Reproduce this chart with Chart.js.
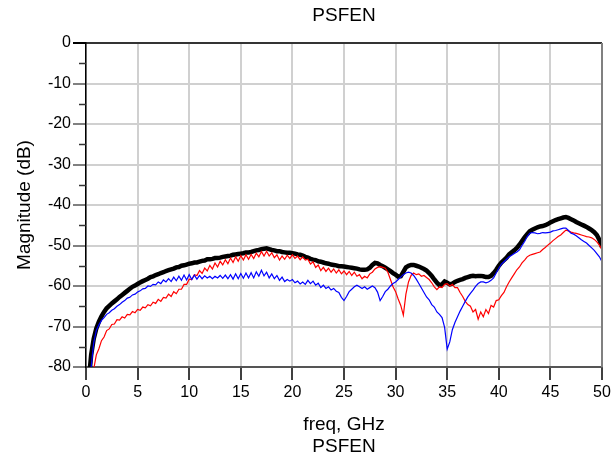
<!DOCTYPE html>
<html>
<head>
<meta charset="utf-8">
<script src="https://cdn.jsdelivr.net/npm/chart.js@4.4.1/dist/chart.umd.min.js"></script>
<style>
  html, body { margin: 0; padding: 0; background: #fff; }
  #wrap { width: 611px; height: 458px; }
</style>
</head>
<body>
<div id="wrap"><canvas id="c" width="611" height="458"></canvas></div>
<script>
const FREQ_STEP = 0.25;
const xTicks = [0, 5, 10, 15, 20, 25, 30, 35, 40, 45, 50];
const yTicks = [-80, -70, -60, -50, -40, -30, -20, -10, 0];

const black = [
  -100, -84, -77, -73, -70.5, -68.8, -67.5, -66.4, -65.5, -64.9, -64.3, -63.8, -63.3, -62.7, -62.2, -61.7, -61.2, -60.7, -60.2, -59.9,
  -59.5, -59.1, -58.8, -58.5, -58.2, -57.8, -57.6, -57.3, -57.1, -56.8, -56.6, -56.3, -56.1, -55.9, -55.7, -55.4, -55.3, -55.0, -54.9, -54.7,
  -54.5, -54.4, -54.2, -54.2, -54.0, -53.8, -53.7, -53.4, -53.4, -53.3, -53.1, -53.1, -53.0, -52.8, -52.7, -52.6, -52.5, -52.3, -52.2, -52.1,
  -52.0, -51.9, -51.7, -51.7, -51.6, -51.4, -51.2, -51.1, -50.9, -50.8, -50.7, -50.9, -51.1, -51.2, -51.4, -51.4, -51.6, -51.7, -51.8, -51.8,
  -51.9, -52.0, -52.2, -52.3, -52.5, -52.8, -53.0, -53.3, -53.5, -53.6, -53.9, -54.0, -54.2, -54.4, -54.5, -54.7, -54.8, -54.9, -55.1, -55.1,
  -55.2, -55.3, -55.4, -55.5, -55.6, -55.7, -55.9, -56.0, -56.0, -55.9, -55.5, -54.8, -54.3, -54.4, -54.8, -55.1, -55.5, -55.9, -56.3, -56.8,
  -57.2, -57.7, -57.6, -56.5, -55.4, -55.0, -54.8, -54.8, -55.0, -55.2, -55.5, -55.8, -56.2, -56.8, -57.5, -58.4, -59.2, -59.8, -59.6, -58.9,
  -59.2, -59.6, -59.4, -59.0, -58.7, -58.5, -58.3, -58.0, -57.8, -57.6, -57.5, -57.6, -57.5, -57.5, -57.6, -57.8, -57.8, -57.5, -56.8, -56.0,
  -55.0, -54.2, -53.6, -53.0, -52.2, -51.7, -51.2, -50.6, -49.8, -48.9, -48.0, -47.2, -46.5, -46.1, -45.8, -45.5, -45.3, -45.2, -45.0, -44.7,
  -44.3, -44.0, -43.7, -43.5, -43.3, -43.1, -43.0, -43.2, -43.5, -43.8, -44.2, -44.5, -44.8, -45.1, -45.4, -45.8, -46.2, -46.7, -47.4, -48.6,
  -50.4
];

const blue = [
  -100, -90, -80, -74, -71, -69.6, -68.5, -67.8, -67, -66.6, -66, -65.6, -65, -64.6, -64, -63.6, -63, -62.8, -62.2, -62.0,
  -61.5, -61.2, -60.7, -60.6, -60.0, -60.1, -59.6, -59.7, -59.0, -59.4, -58.5, -59.0, -58.2, -58.9, -57.8, -58.7, -57.6, -58.6, -57.3, -58.5,
  -57.2, -58.4, -57.3, -58.3, -57.4, -58.2, -57.5, -58.0, -57.6, -58.2, -57.6, -58.0, -57.4, -58.1, -57.3, -58.2, -57.2, -58.3, -57.0, -58.2,
  -56.9, -58.1, -56.8, -58.0, -56.7, -58.0, -56.5, -57.6, -56.1, -57.5, -56.6, -58.0, -57.0, -58.2, -57.4, -58.6, -57.8, -58.9, -58.4, -58.8,
  -58.4, -59.2, -58.8, -59.5, -59.0, -59.6, -58.6, -59.4, -58.8, -59.8, -59.3, -60.4, -59.8, -60.6, -60.2, -61.0, -60.6, -61.3, -61.6, -62.8,
  -63.6, -62.6, -61.4, -60.8, -60.2, -59.8, -60.2, -60.6, -60.2, -60.8, -60.4, -60.0, -60.4, -61.5, -63.6, -62.6, -61.4, -60.8, -60.0, -59.4,
  -59.0, -58.4, -57.8, -57.2, -56.8, -56.6, -56.8, -57.4, -58.3, -59.4, -60.5, -61.6, -62.7, -63.4, -64.6, -65.2, -66.4, -67.0, -67.8, -70.2,
  -75.6, -73.8, -70.8, -69.0, -67.6, -66.2, -65.0, -63.8, -62.7, -61.8, -61.0, -60.1, -59.4, -59.0, -59.0, -59.2, -59.0, -58.6, -58.0, -56.8,
  -55.6, -54.6, -54.0, -53.4, -52.8, -52.4, -52.0, -51.6, -51.1, -50.0, -49.0, -47.8, -47.0, -46.8, -46.9, -47.1, -47.0, -46.8, -46.9, -46.8,
  -46.7, -46.4, -46.3, -46.1, -45.9, -45.7, -45.7, -46.3, -47.0, -47.2, -47.6, -48.1, -48.6, -49.0, -49.4, -50.0, -50.6, -51.2, -52.0, -52.8,
  -54.0
];

const red = [
  -100, -100, -90, -80.5, -77, -75.5, -73.5, -72.6, -71, -70.6, -69.5, -69.4, -68.3, -68.4, -67.6, -67.9, -67.0, -67.1, -66.3, -66.6,
  -65.8, -66.0, -65.2, -65.4, -64.6, -64.9, -64.0, -64.3, -63.3, -63.8, -62.8, -63.0, -62.0, -62.6, -61.4, -61.9, -60.8, -60.8, -59.6, -59.6,
  -58.3, -58.4, -57.2, -57.4, -56.2, -56.9, -55.6, -56.3, -54.9, -55.8, -54.3, -55.3, -53.9, -54.8, -53.5, -54.5, -53.1, -54.2, -52.8, -53.9,
  -52.5, -53.6, -52.3, -53.4, -52.2, -53.2, -51.9, -52.8, -51.5, -52.6, -51.4, -52.6, -51.8, -53.0, -52.3, -53.6, -52.6, -53.4, -52.4, -53.2,
  -52.3, -53.2, -52.6, -53.5, -52.8, -53.6, -53.4, -54.6, -54.0, -55.4, -54.8, -56.2, -55.4, -56.4, -55.6, -56.6, -55.8, -56.8, -56.0, -57.0,
  -56.3, -57.2, -56.4, -57.4, -56.6, -57.6, -57.2, -58.2, -57.6, -58.0, -57.0, -56.6, -55.8, -55.4, -55.2, -55.4, -55.6, -56.6, -58.4, -60.2,
  -61.4, -63.2, -64.8, -67.2, -62.0, -59.0, -57.4, -56.8, -57.2, -57.0, -57.6, -57.4, -57.9, -58.4, -59.2, -60.2, -60.9, -60.2, -60.4, -59.6,
  -59.4, -60.0, -59.6, -60.4, -60.4, -61.6, -62.6, -63.8, -64.6, -65.0, -66.4, -65.8, -68.2, -66.4, -67.6, -65.8, -66.8, -64.8, -65.2, -63.6,
  -63.4, -62.4, -61.6, -60.2, -59.0, -58.0, -57.0, -56.0, -55.3, -54.3, -53.6, -52.8, -52.4, -52.2, -52.0, -51.8, -51.6, -51.0, -50.5, -49.9,
  -49.4, -48.8, -48.3, -47.8, -47.4, -46.8, -46.2, -46.4, -46.7, -46.9, -47.0, -47.2, -47.4, -47.6, -47.8, -47.9, -48.1, -48.5, -49.1, -49.9,
  -51.1
];

const FONT = '"Liberation Sans", Arial, sans-serif';
const pts = arr => arr.map((v, i) => ({ x: i * FREQ_STEP, y: v }));

// minor y ticks + top/right frame lines
const frame = {
  id: 'frame',
  afterDraw(chart) {
    const { ctx, chartArea: a, scales } = chart;
    ctx.save();
    ctx.lineWidth = 1.5;
    ctx.strokeStyle = '#333';
    for (let v = -75; v < 0; v += 10) {
      const y = Math.round(scales.y.getPixelForValue(v)) + 0.5;
      ctx.beginPath(); ctx.moveTo(a.left - 7, y); ctx.lineTo(a.left, y); ctx.stroke();
    }
    ctx.strokeStyle = '#000';
    ctx.beginPath(); ctx.moveTo(a.left - 13, a.top); ctx.lineTo(a.right, a.top); ctx.stroke();
    ctx.strokeStyle = '#808080';
    ctx.lineWidth = 2;
    ctx.beginPath(); ctx.moveTo(a.right, a.top); ctx.lineTo(a.right, a.bottom); ctx.stroke();
    ctx.restore();
  }
};

new Chart(document.getElementById('c'), {
  type: 'line',
  data: {
    datasets: [
      { data: pts(blue), borderColor: '#0000ff', borderWidth: 1.2 },
      { data: pts(red), borderColor: '#ff0000', borderWidth: 1.2 },
      { data: pts(black), borderColor: '#000000', borderWidth: 4.5 }
    ]
  },
  options: {
    responsive: false,
    devicePixelRatio: 1,
    animation: false,
    elements: { point: { radius: 0 }, line: { tension: 0 } },
    layout: { padding: { left: 0, right: 9, top: 0, bottom: 0 } },
    plugins: {
      legend: { display: false },
      tooltip: { enabled: false },
      title: {
        display: true, text: 'PSFEN', color: '#000', fullSize: false,
        font: { family: FONT, size: 19, weight: 'normal' },
        padding: { top: 4.6, bottom: 15.6 }
      }
    },
    scales: {
      x: {
        type: 'linear', min: 0, max: 50,
        afterBuildTicks: s => { s.ticks = xTicks.map(v => ({ value: v })); },
        afterFit: s => { s.height = 91; s.paddingLeft = 0; s.paddingRight = 0; },
        grid: { color: '#d0d0d0', lineWidth: 2, tickColor: '#000', tickWidth: 1.5, tickLength: 13 },
        border: { color: '#555', width: 2 },
        ticks: { color: '#000', font: { family: FONT, size: 16 }, padding: 3, maxRotation: 0 },
        title: {
          display: true, text: ['freq, GHz', 'PSFEN'], color: '#000',
          font: { family: FONT, size: 19, lineHeight: 1.16 }, padding: { top: 0, bottom: 0 }
        }
      },
      y: {
        min: -80, max: 0,
        afterBuildTicks: s => { s.ticks = yTicks.map(v => ({ value: v })); },
        afterFit: s => { s.width = 86; },
        grid: {
          color: '#d0d0d0', lineWidth: 2, tickLength: 13, tickWidth: 2,
          tickColor: c => (c.tick && c.tick.value === 0) ? '#000' : '#808080'
        },
        border: { color: '#000', width: 1.5 },
        ticks: { color: '#000', font: { family: FONT, size: 16 }, padding: 2 },
        title: {
          display: true, text: 'Magnitude (dB)', color: '#000',
          font: { family: FONT, size: 19 }, padding: { top: 13.6, bottom: 0 }
        }
      }
    }
  },
  plugins: [frame]
});
</script>
</body>
</html>
